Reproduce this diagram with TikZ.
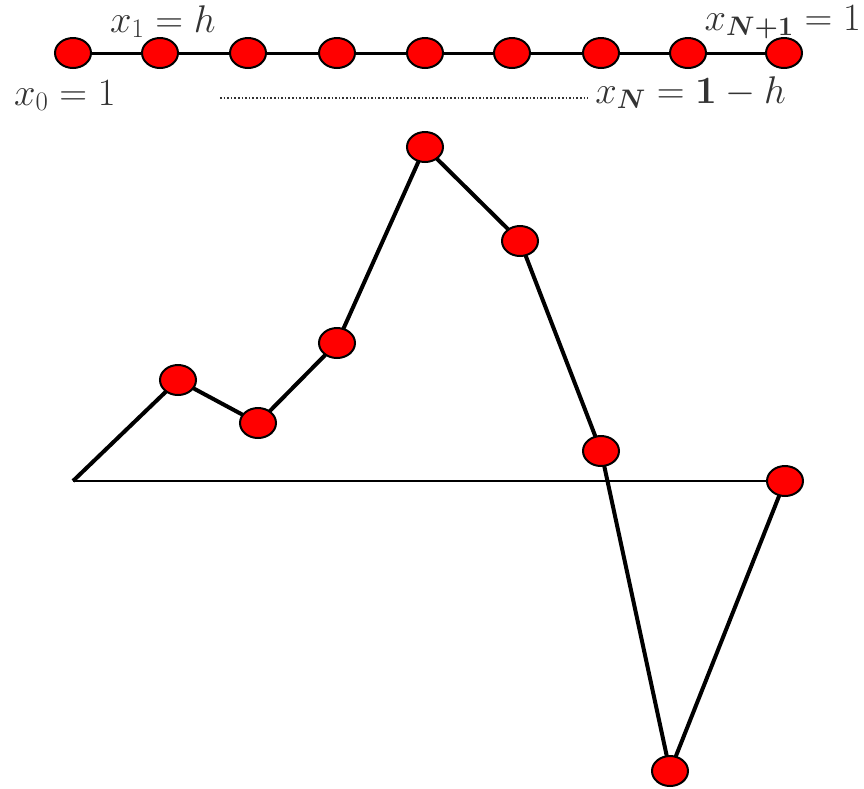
\documentclass[tikz,border=0pt]{standalone}
\usepackage{amsmath}
\usepackage{bm}
\usetikzlibrary{shapes.geometric}
\begin{document}
\begin{tikzpicture}[x=1pt,y=-1pt,
  dot/.style={ellipse,draw=black,line width=2pt,fill=red,minimum width=36pt,minimum height=30pt,inner sep=0pt},
  lbl/.style={text=black!80,font=\fontsize{24}{28}\selectfont,inner sep=0pt},
  graphline/.style={line width=4pt},
  toplineS/.style={line width=3pt}]
\useasboundingbox (0,0) rectangle (864,788);
% top row
\foreach \i/\x in {0/73,1/160,2/248,3/337,4/425,5/512,6/601,7/688,8/784}{
  \coordinate (t\i) at (\x,53);
}
\draw[toplineS] (t0) -- (t8);
\foreach \i in {0,...,8}{ \node[dot] (d\i) at (t\i) {}; }
\node[lbl,anchor=base west] (l1) at (110,32) {\scalebox{1.55}{$x_1=h$}};
\node[lbl,anchor=base west] (l0) at (14,105) {\scalebox{1.55}{$x_0=1$}};
\node[lbl,anchor=base east] (lN1) at (861,30) {\scalebox{1.55}{$x_{\bm{N+1}}=1$}};
\node[lbl,anchor=base east] (lN) at (786,103) {\scalebox{1.55}{$x_{\bm{N}}=\mathbf{1}-h$}};
\coordinate (ds) at (220,98);
\coordinate (de) at (588,98);
\draw[line width=1.6pt,dotted,black!80] (ds) -- (de);
% graph
\coordinate (p0) at (73,481);
\coordinate (ax) at (784,481);
\draw[line width=2.5pt] (p0) -- (ax);
\coordinate (p1) at (178,380);
\coordinate (p2) at (258,423);
\coordinate (p3) at (337,343);
\coordinate (p4) at (425,147);
\coordinate (p5) at (520,241);
\coordinate (p6) at (601,451);
\coordinate (p7) at (670,771);
\coordinate (p8) at (785,481);
\draw[graphline,line join=round] (p0) -- (p1) -- (p2) -- (p3) -- (p4) -- (p5) -- (p6) -- (p7) -- (p8);
\foreach \i in {1,...,8}{ \node[dot] (g\i) at (p\i) {}; }
\end{tikzpicture}
\end{document}
